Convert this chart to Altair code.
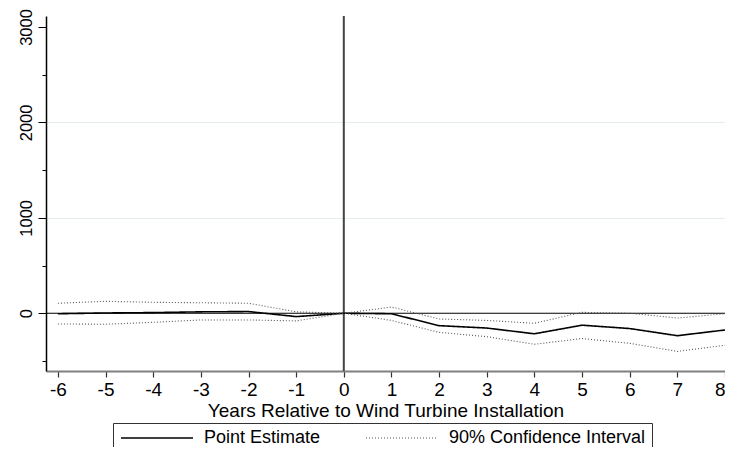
import altair as alt
import pandas as pd

years = [-6, -5, -4, -3, -2, -1, 0, 1, 2, 3, 4, 5, 6, 7, 8]
point_estimate = [-5, 3, 7, 15, 18, -35, 0, -5, -130, -155, -215, -125, -160, -235, -175]
ci_upper = [105, 125, 115, 110, 105, 15, 0, 65, -60, -75, -105, 10, 0, -50, -5]
ci_lower = [-112, -115, -95, -70, -70, -80, 0, -75, -200, -245, -325, -265, -315, -400, -335]

legend_names = ["Point Estimate", "90% Confidence Interval"]
x_ticks = list(range(-6, 9))
y_ticks = [-500, 0, 500, 1000, 1500, 2000, 2500, 3000]

rows = []
for series, vals, name in [("est", point_estimate, legend_names[0]),
                           ("upper", ci_upper, legend_names[1]),
                           ("lower", ci_lower, legend_names[1])]:
    for yr, v in zip(years, vals):
        rows.append({"year": yr, "value": v, "series": series, "kind": name})
df = pd.DataFrame(rows)

FONT = "Liberation Sans"

x_scale = alt.Scale(domain=[-6.25, 8.0], nice=False, zero=False)
y_scale = alt.Scale(domain=[-605, 3115], nice=False, zero=False)

lines = alt.Chart(df).mark_line(clip=True).encode(
    x=alt.X("year:Q", scale=x_scale,
            axis=alt.Axis(values=x_ticks, title="Years Relative to Wind Turbine Installation",
                          labelExpr="'' + datum.value",
                          grid=False, tickSize=6, tickColor="#333333", tickWidth=1.2,
                          domainColor="#808080", domainWidth=2,
                          labelFont=FONT, labelFontSize=19, labelColor="black", labelPadding=3,
                          titleFont=FONT, titleFontSize=19, titleFontWeight="normal",
                          titleColor="black", titlePadding=2)),
    y=alt.Y("value:Q", scale=y_scale,
            axis=alt.Axis(values=y_ticks, title=None,
                          labelExpr="datum.value % 1000 === 0 ? '' + datum.value : ''",
                          labelAngle=270, labelAlign="center", labelBaseline="bottom",
                          labelFont=FONT, labelFontSize=16.5, labelColor="black", labelPadding=4,
                          tickSize={"condition": {"test": "datum.value % 1000 === 0", "value": 8}, "value": 4},
                          tickColor="black", tickWidth=1,
                          domainColor="black", domainWidth=1.5,
                          grid=True,
                          gridColor={"condition": {"test": "datum.value === 1000 || datum.value === 2000",
                                                   "value": "#e4eded"}, "value": "transparent"},
                          gridWidth=1)),
    color=alt.Color("kind:N",
                    scale=alt.Scale(domain=legend_names, range=["black", "#555555"]),
                    legend=alt.Legend(title=None, orient="none", legendX=67, legendY=407,
                                      direction="horizontal",
                                      symbolType="M-6,0H6", symbolSize=144,
                                      symbolStrokeWidth=1.4, symbolOffset=29,
                                      labelOffset=38, columnPadding=42,
                                      labelFont=FONT, labelFontSize=18, labelColor="black",
                                      labelLimit=400, padding=6,
                                      strokeColor="#333333", fillColor="white")),
    strokeDash=alt.StrokeDash("kind:N",
                              scale=alt.Scale(domain=legend_names, range=[[1, 0], [1, 2]]),
                              legend=alt.Legend(title=None)),
    strokeWidth=alt.StrokeWidth("kind:N",
                                scale=alt.Scale(domain=legend_names, range=[1.6, 1.1]),
                                legend=None),
    detail="series:N",
)

zero_df = pd.DataFrame({"v": [0]})
hline = alt.Chart(zero_df).mark_rule(color="black", strokeWidth=1.2).encode(
    y=alt.Y("v:Q", scale=y_scale))
vline = alt.Chart(zero_df).mark_rule(color="#444444", strokeWidth=2).encode(
    x=alt.X("v:Q", scale=x_scale))

chart = alt.layer(hline, vline, lines).properties(
    width=679, height=355,
    autosize=alt.AutoSizeParams(type="none"),
    padding={"left": 38, "top": 8, "right": 0, "bottom": 76},
    background="white",
).configure_view(stroke=None)

chart.save("out.html", embed_options={"renderer": "svg", "actions": False})
